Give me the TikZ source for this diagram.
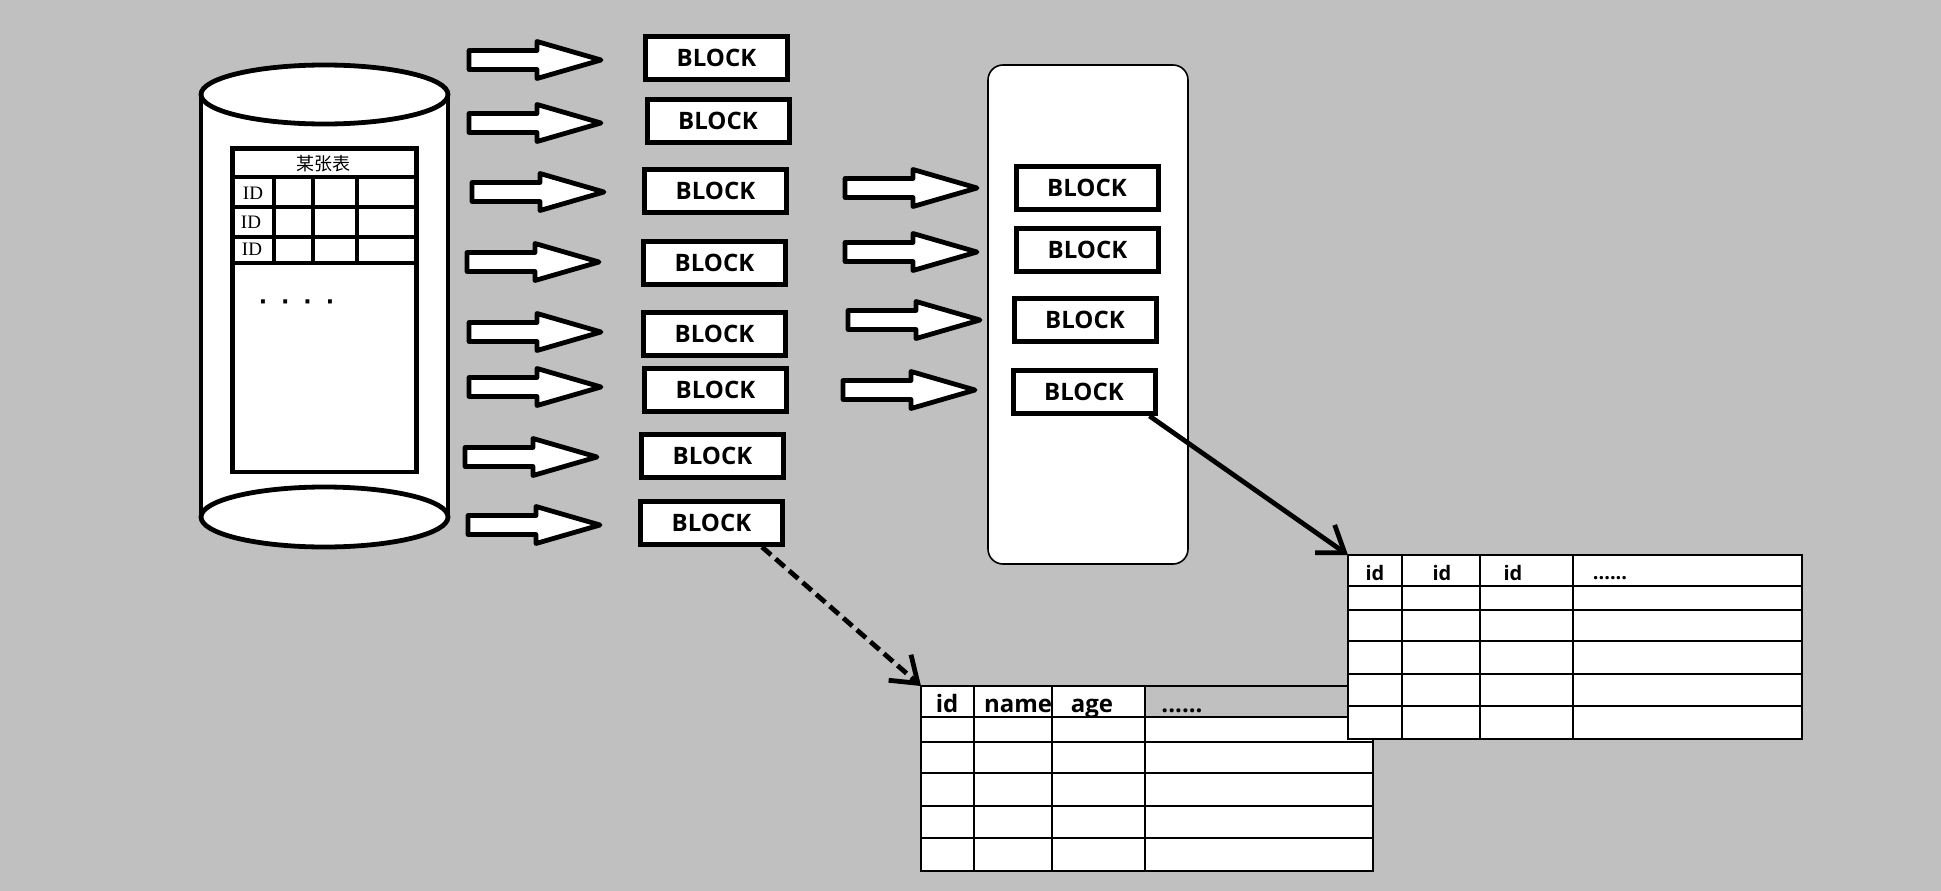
\documentclass[tikz,border=0pt]{standalone}
\usepackage{fontspec}
\usepackage{xcolor}
\usepackage{tikz}
\usetikzlibrary{arrows.meta,positioning}
\setmainfont{Liberation Serif}
\newfontfamily\blockfont{Open Sans}
\newfontfamily\cjkfont{Noto Sans CJK SC}
\newfontfamily\dotfont{DejaVu Sans}
\definecolor{bggray}{RGB}{192,192,192}

\begin{document}
\begin{tikzpicture}[x=1pt,y=-1pt,
	block/.style={draw,line width=5pt,fill=white,minimum width=142pt,minimum height=43pt,inner sep=0pt,font=\blockfont\bfseries\fontsize{24}{26}\selectfont},
	fatarrow/.pic={\draw[line width=4.8pt,line join=round,fill=white] (2,-9.5)--(70,-9.5)--(70,-18.5)--(134,0)--(70,18.5)--(70,9.5)--(2,9.5)--cycle;},
	head/.style={font=\blockfont\bfseries\fontsize{#1}{#1}\selectfont,anchor=base},
	idtext/.style={font=\fontsize{19}{19}\selectfont,inner sep=0pt},
	tbl/.style={line width=1.6pt}]
		\fill[bggray] (0,0) rectangle (1941,891);
		\useasboundingbox (0,0) rectangle (1941,891);
		\fill[white] (201,94.5) rectangle (448,517);
		\draw[line width=4.8pt,fill=white] (324.5,517) ellipse (123.5 and 30);
		\draw[line width=4.8pt] (201,94.5)--(201,517) (448,94.5)--(448,517);
		\draw[line width=4.8pt,fill=white] (324.5,94.5) ellipse (123.5 and 29.5);
		\draw[line width=4.8pt,fill=white] (232.7,148.7) rectangle (416.3,472);
		\draw[line width=4.8pt] (232.7,177)--(416.3,177) (232.7,207)--(416.3,207) (232.7,237)--(416.3,237) (232.7,263)--(416.3,263) (274,177)--(274,263) (313,177)--(313,263) (357,177)--(357,263);
		\node[font=\cjkfont\fontsize{18}{18}\selectfont] (title) at (323,164) {某张表};
		\node[idtext] (id1) at (253,193) {ID};
		\node[idtext] (id2) at (251,222) {ID};
		\node[idtext] (id3) at (252,249) {ID};
		\node[font=\dotfont\bfseries\fontsize{22}{22}\selectfont] (dots) at (296.5,305) {·\hspace{14pt}·\hspace{14pt}·\hspace{14pt}·};
		\draw[line width=1.6pt,fill=white,rounded corners=15pt] (988,65) rectangle (1188,564);
		\node[block] (b1) at (716.5,58) {BLOCK};
		\node[block] (b2) at (718,121) {BLOCK};
		\node[block] (b3) at (715.5,191) {BLOCK};
		\node[block] (b4) at (714.5,262.5) {BLOCK};
		\node[block] (b5) at (714.5,334) {BLOCK};
		\node[block] (b6) at (715.5,390) {BLOCK};
		\node[block] (b7) at (712.5,456) {BLOCK};
		\node[block] (b8) at (711.5,523) {BLOCK};
		\node[block] (c1) at (1087,187.5) {BLOCK};
		\node[block] (c2) at (1087.5,250) {BLOCK};
		\node[block] (c3) at (1085,320) {BLOCK};
		\node[block] (c4) at (1084,392) {BLOCK};
		\pic (a1) at (467,60) {fatarrow};
		\pic (a2) at (467,123) {fatarrow};
		\pic (a3) at (470,192) {fatarrow};
		\pic (a4) at (465,262) {fatarrow};
		\pic (a5) at (467,332) {fatarrow};
		\pic (a6) at (467,387) {fatarrow};
		\pic (a7) at (463,457) {fatarrow};
		\pic (a8) at (466,525) {fatarrow};
		\pic (d1) at (843,188) {fatarrow};
		\pic (d2) at (843,252) {fatarrow};
		\pic (d3) at (846,320) {fatarrow};
		\pic (d4) at (841,390) {fatarrow};
		\fill[white] (921,717) rectangle (1373,871);
		\fill[white] (921,686) rectangle (1145,717);
		\draw[tbl] (921,686) rectangle (1373,871);
		\draw[tbl] (921,717)--(1373,717) (921,742)--(1373,742) (921,773)--(1373,773) (921,806)--(1373,806) (921,838)--(1373,838) (974,686)--(974,871) (1052,686)--(1052,871) (1145,686)--(1145,871);
		\node[head=24] at (947,712) {id};
		\node[head=24] at (1018,712) {name};
		\node[head=24] at (1092,712) {age};
		\node[head=24] at (1182,712) {......};
		\draw[tbl,fill=white] (1348,555) rectangle (1802,739);
		\draw[tbl] (1348,586)--(1802,586) (1348,610)--(1802,610) (1348,641)--(1802,641) (1348,674)--(1802,674) (1348,706)--(1802,706) (1402,555)--(1402,739) (1480,555)--(1480,739) (1573,555)--(1573,739);
		\node[head=20] at (1375,580) {id};
		\node[head=20] at (1442,580) {id};
		\node[head=20] at (1513,580) {id};
		\node[head=20] at (1610,579) {......};
		\coordinate (t1) at (921,686);
		\coordinate (t2) at (1348,555);
		\draw[line width=4.8pt,dash pattern=on 12pt off 6pt,-{Straight Barb[length=24pt,width=34pt]}] ([xshift=-23pt]b8.south east) -- (t1);
		\draw[line width=4.8pt,-{Straight Barb[length=24pt,width=34pt]}] ([xshift=-8pt]c4.south east) -- (t2);
	\end{tikzpicture}
\end{document}
